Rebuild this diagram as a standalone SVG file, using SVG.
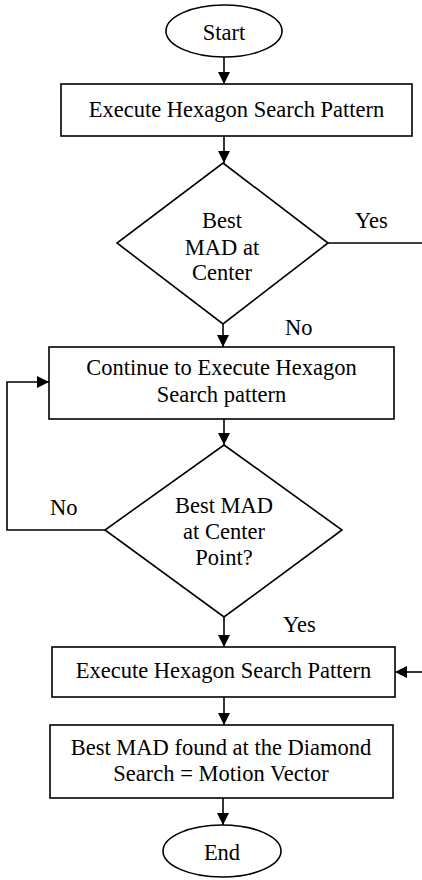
<svg xmlns="http://www.w3.org/2000/svg" width="422" height="880" viewBox="0 0 422 880">
<style>
.s{fill:#fff;stroke:#000;stroke-width:1.6}
.c{fill:none;stroke:#000;stroke-width:1.6}
text{font-family:"Liberation Serif","Times New Roman",serif;font-size:22.5px;fill:#000}
.m{text-anchor:middle}
</style>
<defs>
<marker id="ah" viewBox="0 0 10 10" refX="10" refY="5" markerWidth="13" markerHeight="12" markerUnits="userSpaceOnUse" orient="auto">
<path d="M0,0 L10,5 L0,10 z" fill="#000"/>
</marker>
</defs>
<rect width="422" height="880" fill="#fff"/>
<g id="connectors">
<line class="c" x1="224" y1="57" x2="224" y2="84" marker-end="url(#ah)"/>
<line class="c" x1="224" y1="136" x2="224" y2="163" marker-end="url(#ah)"/>
<line class="c" x1="328" y1="243" x2="422" y2="243"/>
<line class="c" x1="223" y1="324" x2="223" y2="347" marker-end="url(#ah)"/>
<line class="c" x1="224" y1="419" x2="224" y2="445" marker-end="url(#ah)"/>
<polyline class="c" points="105,530 7,530 7,382 49,382" marker-end="url(#ah)"/>
<line class="c" x1="224" y1="617" x2="224" y2="647" marker-end="url(#ah)"/>
<line class="c" x1="422" y1="672" x2="395" y2="672" marker-end="url(#ah)"/>
<line class="c" x1="224" y1="697" x2="224" y2="725" marker-end="url(#ah)"/>
<line class="c" x1="223" y1="798" x2="223" y2="825" marker-end="url(#ah)"/>
<text x="355" y="228">Yes</text>
<text x="285" y="335">No</text>
<text x="50" y="515">No</text>
<text x="283" y="632">Yes</text>
</g>
<g id="start">
<ellipse class="s" cx="224" cy="31" rx="58" ry="26"/>
<text class="m" x="224" y="40">Start</text>
</g>
<g id="box1">
<rect class="s" x="61" y="84" width="351" height="52"/>
<text class="m" x="236.5" y="117">Execute Hexagon Search Pattern</text>
</g>
<g id="decision1">
<polygon class="s" points="223,163 328,243 223,324 117,243"/>
<text class="m" x="222" y="228">Best</text>
<text class="m" x="222" y="255">MAD at</text>
<text class="m" x="222" y="280">Center</text>
</g>
<g id="box2">
<rect class="s" x="49" y="347" width="345" height="72"/>
<text class="m" x="221.5" y="375">Continue to Execute Hexagon</text>
<text class="m" x="221.5" y="402">Search pattern</text>
</g>
<g id="decision2">
<polygon class="s" points="224,445 342,530 224,617 105,530"/>
<text class="m" x="224" y="513">Best MAD</text>
<text class="m" x="224" y="539">at Center</text>
<text class="m" x="224" y="565">Point?</text>
</g>
<g id="box5">
<rect class="s" x="52" y="647" width="343" height="50"/>
<text class="m" x="223.5" y="678">Execute Hexagon Search Pattern</text>
</g>
<g id="box6">
<rect class="s" x="50" y="725" width="343" height="73"/>
<text class="m" x="221" y="755">Best MAD found at the Diamond</text>
<text class="m" x="221" y="781">Search = Motion Vector</text>
</g>
<g id="end">
<ellipse class="s" cx="222" cy="851" rx="59" ry="26"/>
<text class="m" x="222" y="860">End</text>
</g>
</svg>
